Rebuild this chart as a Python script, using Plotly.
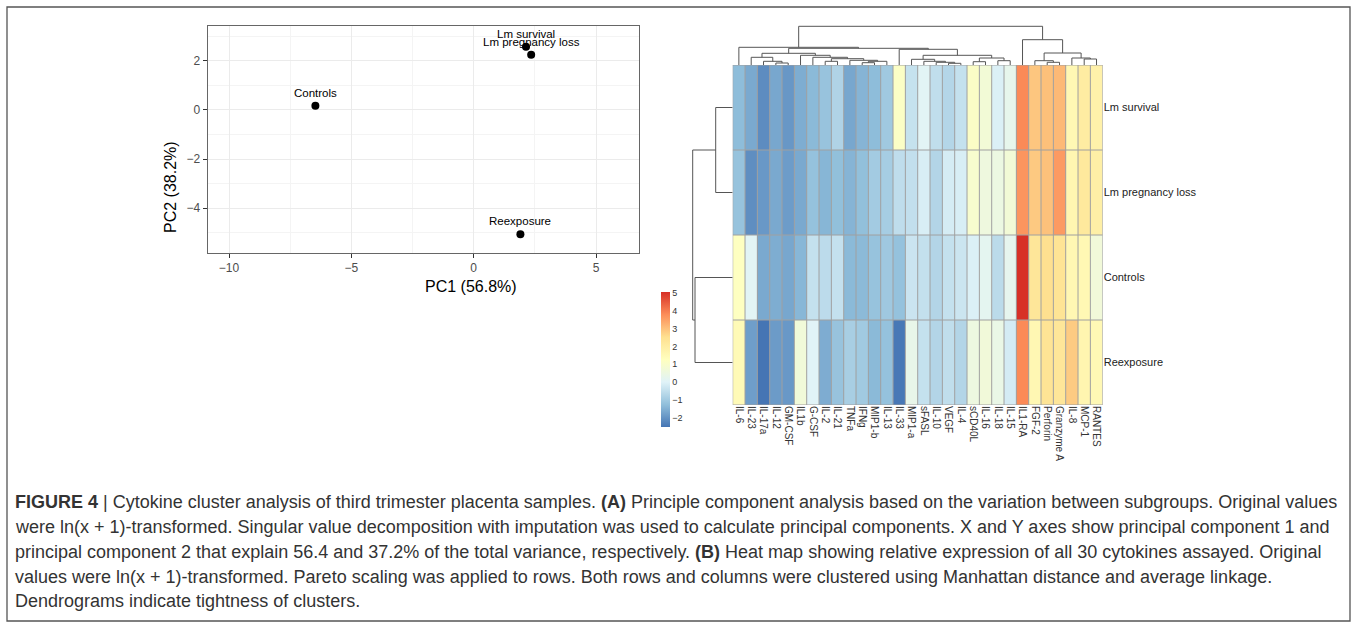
import plotly.graph_objects as go

W, H = 1357, 624

# ---------------- data ----------------
groups = ["Controls", "Lm survival", "Lm pregnancy loss", "Reexposure"]
pc1 = [-6.47, 2.14, 2.35, 1.91]
pc2 = [0.17, 2.57, 2.24, -5.06]

cytokines = ["IL-6", "IL-23", "IL-17a", "IL-12", "GM-CSF", "IL1b", "G-CSF", "IL-2",
             "IL-21", "TNFa", "IFNg", "MIP1-b", "IL-13", "IL-33", "MIP1-a", "sFASL",
             "IL-10", "VEGF", "IL-4", "sCD40L", "IL-16", "IL-18", "IL-15", "IL1-RA",
             "FGF-2", "Perforin", "Granzyme A", "IL-8", "MCP-1", "RANTES"]
row_names = ["Lm survival", "Lm pregnancy loss", "Controls", "Reexposure"]

lm_survival = [-1.28, -1.62, -2.10, -1.65, -1.92, -1.55, -1.33, -1.13, -0.75, -1.65,
               -1.42, -1.28, -1.00, 1.13, -0.40, 0.10, -0.48, -0.68, -0.42, 1.12,
               0.77, -0.05, 0.30, 3.85, 2.94, 3.04, 3.14, 1.57, 2.06, 1.86]
lm_pregnancy_loss = [-1.15, -2.07, -1.90, -1.62, -1.83, -1.62, -1.17, -1.40, -1.22, -1.42,
                     -1.22, -0.95, -0.90, -0.50, -0.46, -0.10, -0.70, -0.15, -0.10, 0.95,
                     0.60, 0.50, 0.77, 3.69, 2.90, 3.02, 3.61, 1.65, 2.20, 1.95]
controls = [1.25, 0.10, -1.62, -1.55, -1.65, -1.38, -0.42, -0.55, -0.42, -1.33,
            -1.32, -1.15, -1.02, -1.17, -0.33, -0.44, -0.70, -0.42, -0.32, -0.05,
            0.20, -0.57, 0.25, 5.07, 2.30, 2.55, 2.40, 1.62, 1.57, 0.70]
reexposure = [1.50, -1.80, -2.50, -1.85, -1.90, 0.72, 0.05, -1.56, -1.13, -0.87,
              -0.98, -1.33, -1.17, -2.45, 0.35, -0.42, -0.70, -0.48, -0.70, 0.55,
              0.70, 0.42, -0.17, 3.85, 1.60, 2.40, 2.30, 2.87, 1.68, 1.55]

# dendrogram merges: (node, left, right, height)
col_merges = [
    ("n1", "IL-12", "GM-CSF", 2.0), ("n2", "IL-17a", "n1", 3.7), ("n3", "IL-23", "n2", 7.7),
    ("n4", "IL-2", "IL-21", 3.7), ("n5", "IFNg", "MIP1-b", 2.3), ("n6", "n5", "IL-13", 3.7),
    ("n7", "TNFa", "n6", 4.7), ("n8", "n4", "n7", 6.3), ("n9", "G-CSF", "n8", 7.7),
    ("n10", "IL1b", "n9", 9.7), ("n11", "n3", "n10", 11.7),
    ("n12", "VEGF", "IL-4", 1.7), ("n13", "IL-10", "n12", 2.7), ("n14", "sFASL", "n13", 3.7),
    ("n15", "MIP1-a", "n14", 5.7), ("n16", "sCD40L", "IL-16", 3.3), ("n17", "IL-18", "IL-15", 4.3),
    ("n18", "n16", "n17", 7.0), ("n19", "n15", "n18", 9.7), ("n20", "IL-33", "n19", 15.7),
    ("n21", "n11", "n20", 16.7), ("n22", "IL-6", "n21", 17.7),
    ("n23", "Perforin", "Granzyme A", 2.7), ("n24", "FGF-2", "n23", 4.3),
    ("n25", "MCP-1", "RANTES", 6.0), ("n26", "IL-8", "n25", 7.0), ("n27", "n24", "n26", 12.0),
    ("n28", "IL1-RA", "n27", 25.3), ("n29", "n22", "n28", 38.7),
]
row_merges = [
    ("r1", "Lm survival", "Lm pregnancy loss", 17.0),
    ("r2", "Controls", "Reexposure", 37.7),
    ("r3", "r1", "r2", 40.0),
]

caption_lines = [
    "<b>FIGURE 4</b> | Cytokine cluster analysis of third trimester placenta samples. <b>(A)</b> Principle component analysis based on the variation between subgroups. Original values",
    "were ln(x + 1)-transformed. Singular value decomposition with imputation was used to calculate principal components. X and Y axes show principal component 1 and",
    "principal component 2 that explain 56.4 and 37.2% of the total variance, respectively. <b>(B)</b> Heat map showing relative expression of all 30 cytokines assayed. Original",
    "values were ln(x + 1)-transformed. Pareto scaling was applied to rows. Both rows and columns were clustered using Manhattan distance and average linkage.",
    "Dendrograms indicate tightness of clusters.",
]

colors_rdylbu = ["#4575B4", "#91BFDB", "#E0F3F8", "#FFFFBF", "#FEE090", "#FC8D59", "#D73027"]

# ---------------- helpers ----------------
def fx(px):
    return px / W


def fy(py):
    return 1 - py / H


def dendro(merges, leaves):
    pos = {n: i for i, n in enumerate(leaves)}
    hgt = {n: 0.0 for n in leaves}
    p, h = [], []
    for node, a, b, ht in merges:
        pa, pb = pos[a], pos[b]
        p += [pa, pa, pb, pb, None]
        h += [hgt[a], ht, ht, hgt[b], None]
        pos[node] = (pa + pb) / 2
        hgt[node] = ht
    return p, h


FONT = "Liberation Sans, Arial, Helvetica, sans-serif"
fig = go.Figure()

# ---------------- PCA ----------------
fig.add_trace(go.Scatter(x=pc1, y=pc2, mode="markers", xaxis="x", yaxis="y",
                         marker=dict(color="black", size=8), showlegend=False,
                         hoverinfo="skip"))

# ---------------- heatmap ----------------
z = [lm_survival, lm_pregnancy_loss, controls, reexposure]
zmin, zmax = -2.5, 5.07
cs = [[i / (len(colors_rdylbu) - 1), c] for i, c in enumerate(colors_rdylbu)]
fig.add_trace(go.Heatmap(
    z=z, x=list(range(len(cytokines))), y=list(range(len(row_names))),
    colorscale=cs, zmin=zmin, zmax=zmax, xaxis="x2", yaxis="y2",
    colorbar=dict(x=fx(660.7), xanchor="left", y=fy(291.7), yanchor="top",
                  len=135, lenmode="pixels", thickness=8.6, thicknessmode="pixels",
                  outlinewidth=0, tickvals=[-2, -1, 0, 1, 2, 3, 4, 5], ticks="",
                  tickfont=dict(size=9, color="#333333", family=FONT),
                  xpad=0, ypad=0),
    hoverinfo="skip"))

# dendrograms
cp, ch = dendro(col_merges, cytokines)
fig.add_trace(go.Scatter(x=cp, y=ch, mode="lines", xaxis="x3", yaxis="y3",
                         line=dict(color="#555555", width=1), showlegend=False,
                         hoverinfo="skip"))
rp, rh = dendro(row_merges, row_names)
fig.add_trace(go.Scatter(x=rh, y=rp, mode="lines", xaxis="x4", yaxis="y4",
                         line=dict(color="#555555", width=1), showlegend=False,
                         hoverinfo="skip"))

nc, nr = len(cytokines), len(row_names)
shapes = []
for k in range(nc + 1):
    shapes.append(dict(type="line", xref="x2", yref="y2", x0=k - 0.5, x1=k - 0.5,
                       y0=-0.5, y1=nr - 0.5, line=dict(color="#a0a0a0", width=1)))
for j in range(nr + 1):
    shapes.append(dict(type="line", xref="x2", yref="y2", x0=-0.5, x1=nc - 0.5,
                       y0=j - 0.5, y1=j - 0.5, line=dict(color="#a0a0a0", width=1)))
shapes.append(dict(type="rect", xref="paper", yref="paper", x0=fx(7), x1=fx(1350),
                   y0=fy(621), y1=fy(7), line=dict(color="#555555", width=1.3)))

annotations = []
for g, a, b in zip(groups, pc1, pc2):
    annotations.append(dict(x=a, y=b, xref="x", yref="y", text=g, showarrow=False,
                            yshift=13, font=dict(size=11.5, color="black", family=FONT)))
annotations.append(dict(x=fx(423.4), y=fy(287), xref="paper", yref="paper",
                        text="PC1 (56.8%)", showarrow=False,
                        font=dict(size=16, color="black", family=FONT)))
annotations.append(dict(x=fx(160), y=fy(139.5), xref="paper", yref="paper",
                        text="PC2 (38.2%)", showarrow=False, textangle=-90,
                        font=dict(size=16, color="black", family=FONT)))
line_y = [502, 527, 552, 577, 601]
for t, yy in zip(caption_lines, line_y):
    annotations.append(dict(x=fx(13), y=fy(yy), xref="paper", yref="paper", text=t,
                            showarrow=False, xanchor="left", yanchor="middle",
                            font=dict(size=18, color="#333333", family=FONT)))

axis_common = dict(showgrid=False, zeroline=False)
fig.update_layout(
    width=W, height=H, autosize=False,
    margin=dict(l=0, r=0, t=0, b=0, pad=0),
    paper_bgcolor="white", plot_bgcolor="white",
    font=dict(family=FONT),
    showlegend=False,
    xaxis=dict(domain=[fx(207.5), fx(639.3)], range=[-10.88, 6.77], anchor="y",
               tickvals=[-10, -5, 0, 5], showgrid=True, gridcolor="#EBEBEB", gridwidth=1,
               minor=dict(tickvals=[-7.5, -2.5, 2.5], showgrid=True, gridcolor="#F4F4F4",
                          gridwidth=0.6),
               zeroline=False, showline=True, mirror=True, linecolor="#666666", linewidth=1,
               ticks="outside", ticklen=4, tickcolor="#333333",
               tickfont=dict(size=12, color="#4D4D4D")),
    yaxis=dict(domain=[fy(253), fy(26)], range=[-5.82, 3.41], anchor="x",
               tickvals=[-4, -2, 0, 2], showgrid=True, gridcolor="#EBEBEB", gridwidth=1,
               minor=dict(tickvals=[-5, -3, -1, 1, 3], showgrid=True, gridcolor="#F4F4F4",
                          gridwidth=0.6),
               zeroline=False, showline=True, mirror=True, linecolor="#666666", linewidth=1,
               ticks="outside", ticklen=4, tickcolor="#333333",
               tickfont=dict(size=12, color="#4D4D4D")),
    xaxis2=dict(domain=[fx(732.7), fx(1102.7)], range=[-0.5, nc - 0.5], anchor="y2",
                tickvals=list(range(nc)), ticktext=cytokines, tickangle=90, ticks="",
                tickfont=dict(size=10, color="#333333"), **axis_common),
    yaxis2=dict(domain=[fy(405), fy(65)], range=[nr - 0.5, -0.5], anchor="x2",
                side="right", tickvals=list(range(nr)), ticktext=row_names, ticks="",
                tickfont=dict(size=11, color="#222222"), **axis_common),
    xaxis3=dict(domain=[fx(732.7), fx(1102.7)], range=[-0.5, nc - 0.5], anchor="y3",
                visible=False),
    yaxis3=dict(domain=[fy(65), fy(22)], range=[0, 43], anchor="x3", visible=False),
    xaxis4=dict(domain=[fx(690), fx(732.7)], range=[42.7, 0], anchor="y4", visible=False),
    yaxis4=dict(domain=[fy(405), fy(65)], range=[nr - 0.5, -0.5], anchor="x4",
                visible=False),
    shapes=shapes,
    annotations=annotations,
)

fig.write_html("out.html", include_plotlyjs=True, config={"displayModeBar": False},
               post_script="document.body.style.margin='0';document.body.style.overflow='hidden';")
